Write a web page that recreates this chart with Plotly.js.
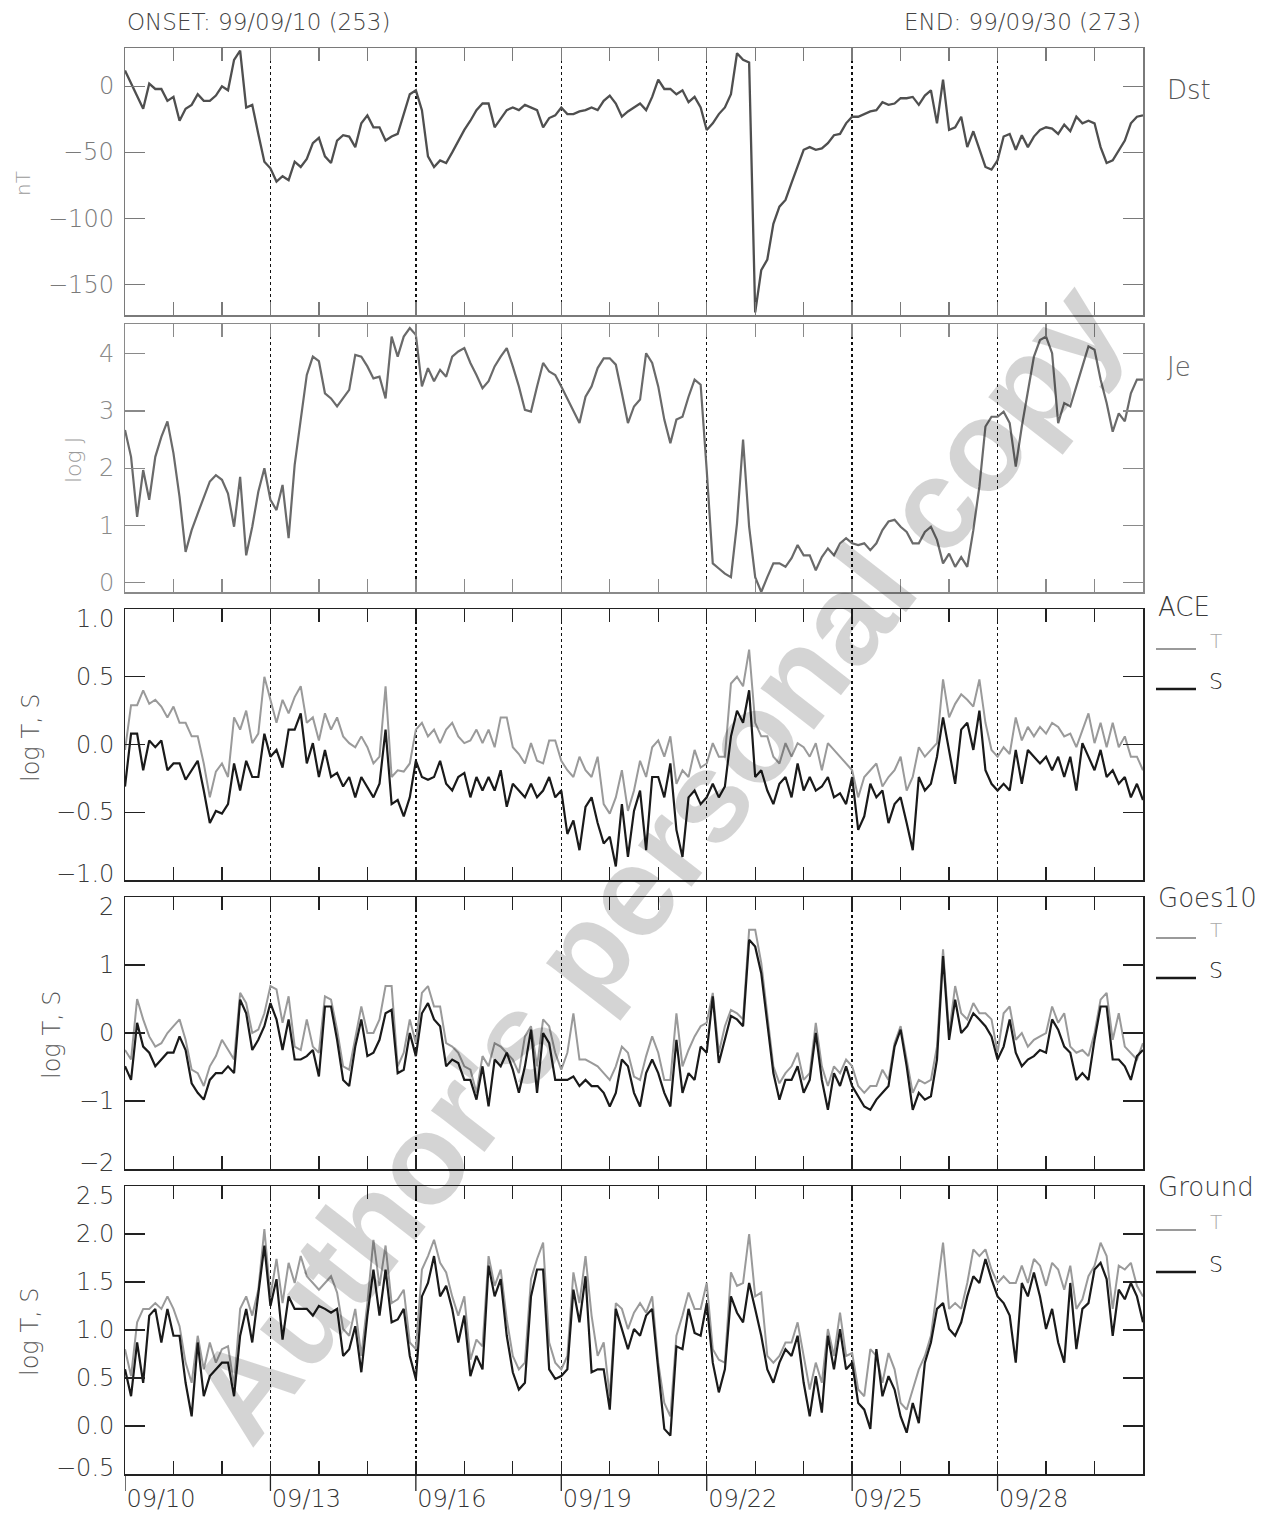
<!DOCTYPE html>
<html>
<head>
<meta charset="utf-8">
<script src="https://cdn.plot.ly/plotly-3.0.1.min.js"></script>
<style>
html,body{margin:0;padding:0;background:#fff;}
#chart{width:1271px;height:1515px;}
</style>
</head>
<body>
<div id="chart"></div>
<script>
// ---------------- DATA (3-hourly samples, days since 1999-09-10 00:00 UT) ----------------
const STEP_DAYS = 0.125;
const dayTickVals = [0, 3, 6, 9, 12, 15, 18];
const dayTickLabels = ["09/10", "09/13", "09/16", "09/19", "09/22", "09/25", "09/28"];

const dstTickVals = [0, -50, -100, -150];
const dstTickText = ["0", "\u221250", "\u2212100", "\u2212150"];
const jeTickVals = [0, 1, 2, 3, 4];
const jeTickText = ["0", "1", "2", "3", "4"];
const aceTickVals = [1, 0.5, 0, -0.5, -1];
const aceTickText = ["1.0", "0.5", "0.0", "\u22120.5", "\u22121.0"];
const goesTickVals = [2, 1, 0, -1, -2];
const goesTickText = ["2", "1", "0", "\u22121", "\u22122"];
const groundTickVals = [2.5, 2, 1.5, 1, 0.5, 0, -0.5];
const groundTickText = ["2.5", "2.0", "1.5", "1.0", "0.5", "0.0", "\u22120.5"];

const dst = [
 12, 2, -8, -17, 2, -2, -2, -11,
 -8, -26, -17, -14, -6, -11, -11, -7,
 0, -3, 20, 27, -16, -14, -36, -57,
 -62, -72, -68, -71, -57, -61, -55, -43,
 -39, -53, -58, -41, -37, -38, -46, -28,
 -22, -31, -31, -41, -38, -36, -21, -6,
 -3, -18, -53, -61, -56, -58, -50, -41,
 -33, -26, -18, -13, -13, -31, -24, -18,
 -16, -18, -14, -16, -18, -31, -24, -22,
 -16, -21, -21, -19, -18, -16, -18, -11,
 -7, -13, -23, -19, -16, -13, -18, -8,
 5, -2, -2, -6, -3, -12, -8, -16,
 -33, -28, -21, -16, -6, 25, 20, 18,
 -171, -139, -131, -104, -91, -86, -73, -61,
 -48, -46, -48, -47, -43, -37, -36, -28,
 -23, -23, -21, -19, -18, -12, -14, -13,
 -9, -9, -8, -14, -7, -3, -28, 5,
 -33, -31, -23, -46, -34, -47, -61, -63,
 -56, -38, -36, -48, -37, -46, -38, -33,
 -31, -32, -36, -29, -34, -23, -28, -26,
 -28, -46, -58, -56, -48, -41, -28, -23,
 -22
];

const je = [
 2.67, 2.20, 1.15, 1.97, 1.45, 2.20, 2.55, 2.82,
 2.26, 1.50, 0.54, 0.92, 1.21, 1.50, 1.77, 1.88,
 1.80, 1.56, 0.98, 1.85, 0.48, 0.98, 1.59, 2.00,
 1.45, 1.27, 1.71, 0.78, 2.06, 2.85, 3.63, 3.95,
 3.87, 3.31, 3.22, 3.08, 3.22, 3.37, 3.98, 3.95,
 3.78, 3.57, 3.60, 3.22, 4.30, 3.95, 4.30, 4.45,
 4.33, 3.43, 3.75, 3.52, 3.72, 3.60, 3.95, 4.04,
 4.10, 3.84, 3.63, 3.40, 3.52, 3.78, 3.95, 4.10,
 3.78, 3.43, 3.02, 2.99, 3.43, 3.84, 3.69, 3.63,
 3.43, 3.22, 3.02, 2.79, 3.25, 3.43, 3.75, 3.92,
 3.92, 3.81, 3.31, 2.79, 3.08, 3.20, 4.01, 3.84,
 3.43, 2.85, 2.44, 2.85, 2.90, 3.25, 3.55, 3.46,
 1.97, 0.34, 0.25, 0.16, 0.10, 1.04, 2.50, 0.98,
 0.10, -0.16, 0.10, 0.34, 0.34, 0.28, 0.43, 0.66,
 0.48, 0.48, 0.22, 0.45, 0.60, 0.48, 0.69, 0.78,
 0.69, 0.66, 0.69, 0.57, 0.69, 0.92, 1.07, 1.10,
 0.98, 0.89, 0.69, 0.69, 0.89, 0.98, 0.75, 0.34,
 0.51, 0.28, 0.45, 0.28, 0.92, 1.68, 2.73, 2.90,
 2.90, 2.99, 2.79, 2.03, 2.73, 3.31, 3.95, 4.24,
 4.30, 4.01, 2.79, 3.14, 3.08, 3.43, 3.78, 4.13,
 4.07, 3.55, 3.14, 2.64, 2.96, 2.82, 3.31, 3.55,
 3.55
];

const aceT = [
 -0.04, 0.29, 0.29, 0.40, 0.30, 0.33, 0.28, 0.20,
 0.28, 0.16, 0.16, 0.06, 0.06, -0.14, -0.39, -0.20,
 -0.14, -0.24, 0.20, 0.11, 0.25, 0.01, 0.08, 0.50,
 0.33, 0.16, 0.33, 0.23, 0.35, 0.43, 0.16, 0.20,
 0.03, 0.23, 0.11, 0.20, 0.06, 0.01, -0.02, 0.06,
 -0.02, -0.14, -0.09, 0.43, -0.24, -0.19, -0.20, -0.14,
 0.11, 0.16, 0.06, 0.11, 0.01, 0.11, 0.16, 0.06,
 0.01, 0.03, 0.11, 0.01, 0.11, -0.02, 0.20, 0.20,
 -0.02, -0.07, -0.14, 0.01, -0.12, -0.14, 0.03, 0.03,
 -0.12, -0.19, -0.24, -0.09, -0.19, -0.24, -0.09, -0.44,
 -0.51, -0.39, -0.19, -0.49, -0.34, -0.12, -0.24, -0.02,
 0.03, -0.09, 0.06, -0.29, -0.19, -0.24, -0.04, -0.17,
 -0.14, 0.01, -0.09, -0.09, 0.45, 0.50, 0.43, 0.70,
 0.16, 0.06, 0.06, -0.09, -0.14, 0.01, -0.09, 0.01,
 -0.02, -0.09, 0.01, -0.19, 0.01, -0.04, -0.09, -0.14,
 -0.19, -0.39, -0.24, -0.19, -0.14, -0.31, -0.24, -0.19,
 -0.09, -0.34, -0.24, -0.02, -0.09, -0.04, 0.01, 0.48,
 0.20, 0.30, 0.37, 0.33, 0.28, 0.48, 0.16, -0.04,
 -0.09, -0.02, -0.07, 0.20, 0.03, 0.13, 0.06, 0.13,
 0.08, 0.16, 0.13, 0.06, 0.08, -0.02, 0.11, 0.23,
 0.01, 0.16, -0.02, 0.16, -0.02, 0.06, -0.09, -0.09,
 -0.19
];

const aceS = [
 -0.31, 0.08, 0.08, -0.19, 0.03, -0.02, 0.03, -0.19,
 -0.14, -0.14, -0.26, -0.19, -0.12, -0.34, -0.58, -0.49,
 -0.51, -0.44, -0.14, -0.34, -0.12, -0.24, -0.24, 0.08,
 -0.09, -0.04, -0.17, 0.11, 0.11, 0.23, -0.14, 0.01,
 -0.24, -0.04, -0.24, -0.21, -0.31, -0.24, -0.39, -0.24,
 -0.31, -0.39, -0.29, 0.11, -0.44, -0.41, -0.53, -0.39,
 -0.12, -0.24, -0.26, -0.24, -0.12, -0.29, -0.34, -0.24,
 -0.21, -0.39, -0.24, -0.34, -0.24, -0.34, -0.19, -0.46,
 -0.29, -0.34, -0.39, -0.29, -0.39, -0.34, -0.24, -0.39,
 -0.34, -0.66, -0.56, -0.78, -0.46, -0.39, -0.58, -0.73,
 -0.68, -0.90, -0.44, -0.83, -0.49, -0.34, -0.78, -0.24,
 -0.24, -0.39, -0.14, -0.63, -0.83, -0.39, -0.34, -0.44,
 -0.39, -0.29, -0.39, -0.31, 0.06, 0.25, 0.16, 0.40,
 -0.24, -0.19, -0.34, -0.44, -0.29, -0.24, -0.39, -0.14,
 -0.34, -0.24, -0.34, -0.31, -0.24, -0.39, -0.36, -0.44,
 -0.24, -0.63, -0.53, -0.29, -0.39, -0.34, -0.58, -0.44,
 -0.39, -0.58, -0.78, -0.24, -0.34, -0.29, -0.09, 0.20,
 -0.04, -0.29, 0.11, 0.16, -0.04, 0.25, -0.19, -0.29,
 -0.34, -0.29, -0.34, -0.04, -0.29, -0.04, -0.09, -0.14,
 -0.09, -0.19, -0.09, -0.24, -0.09, -0.34, 0.01, -0.09,
 -0.19, -0.04, -0.24, -0.19, -0.29, -0.24, -0.39, -0.29,
 -0.41
];

const goesT = [
 -0.25, -0.39, 0.50, 0.20, -0.05, -0.20, -0.15, 0.00,
 0.10, 0.20, -0.10, -0.54, -0.59, -0.78, -0.49, -0.34,
 -0.10, -0.25, -0.39, 0.59, 0.44, 0.00, 0.05, 0.29,
 0.69, 0.64, 0.15, 0.54, -0.20, -0.25, 0.20, -0.20,
 -0.29, 0.54, 0.49, 0.05, -0.49, -0.54, -0.05, 0.39,
 0.00, 0.00, 0.20, 0.69, 0.69, -0.49, -0.29, 0.20,
 -0.15, 0.59, 0.69, 0.39, 0.39, -0.15, -0.20, -0.29,
 -0.49, -0.54, -0.88, -0.34, -0.49, -0.15, -0.20, -0.29,
 -0.39, -0.59, -0.05, 0.10, -0.49, 0.20, 0.10, -0.29,
 -0.54, -0.29, 0.29, -0.39, -0.39, -0.44, -0.49, -0.59,
 -0.69, -0.49, -0.20, -0.29, -0.64, -0.69, -0.34, -0.05,
 -0.29, -0.69, -0.69, 0.29, -0.49, -0.25, -0.05, 0.10,
 0.15, 0.59, -0.29, 0.10, 0.34, 0.29, 0.20, 1.52,
 1.52, 1.03, 0.29, -0.49, -0.74, -0.59, -0.49, -0.29,
 -0.69, -0.59, 0.15, -0.49, -0.78, -0.49, -0.59, -0.39,
 -0.49, -0.78, -0.88, -0.78, -0.78, -0.54, -0.69, -0.15,
 0.10, -0.39, -0.88, -0.69, -0.74, -0.69, -0.20, 1.23,
 0.00, 0.69, 0.29, 0.20, 0.44, 0.29, 0.29, 0.20,
 -0.29, 0.29, 0.39, -0.10, 0.00, -0.20, -0.10, -0.05,
 0.00, 0.39, 0.15, 0.29, -0.20, -0.29, -0.25, -0.34,
 0.00, 0.49, 0.59, -0.10, 0.29, -0.20, -0.29, -0.39,
 -0.15
];

const goesS = [
 -0.49, -0.69, 0.15, -0.20, -0.29, -0.49, -0.39, -0.29,
 -0.29, -0.05, -0.25, -0.74, -0.88, -0.98, -0.69, -0.59,
 -0.59, -0.49, -0.59, 0.49, 0.29, -0.25, -0.10, 0.10,
 0.44, 0.20, -0.25, 0.20, -0.39, -0.39, -0.34, -0.25,
 -0.64, 0.39, 0.39, -0.10, -0.69, -0.78, -0.20, 0.20,
 -0.34, -0.29, -0.10, 0.29, 0.34, -0.59, -0.54, 0.00,
 -0.34, 0.29, 0.44, 0.20, 0.10, -0.49, -0.39, -0.44,
 -0.69, -0.69, -0.98, -0.49, -1.08, -0.39, -0.49, -0.29,
 -0.54, -0.88, -0.49, 0.05, -0.88, 0.00, -0.15, -0.69,
 -0.69, -0.69, -0.64, -0.78, -0.69, -0.78, -0.78, -0.88,
 -1.08, -0.88, -0.39, -0.49, -0.88, -1.08, -0.59, -0.39,
 -0.59, -0.88, -1.08, -0.10, -0.88, -0.59, -0.69, -0.20,
 -0.29, 0.54, -0.44, -0.10, 0.25, 0.20, 0.10, 1.37,
 1.27, 0.88, 0.10, -0.59, -0.98, -0.69, -0.69, -0.49,
 -0.88, -0.69, 0.00, -0.69, -1.13, -0.59, -0.78, -0.49,
 -0.78, -0.93, -1.08, -1.13, -0.98, -0.88, -0.78, -0.20,
 0.05, -0.49, -1.13, -0.88, -0.98, -0.93, -0.39, 1.13,
 -0.10, 0.49, 0.00, 0.10, 0.29, 0.20, 0.10, -0.05,
 -0.39, -0.20, 0.20, -0.29, -0.49, -0.39, -0.34, -0.25,
 -0.29, 0.20, 0.05, -0.20, -0.29, -0.69, -0.59, -0.69,
 -0.10, 0.39, 0.39, -0.39, -0.39, -0.49, -0.69, -0.34,
 -0.25
];

const groundT = [
 0.80, 0.52, 1.08, 1.22, 1.22, 1.28, 1.22, 1.35,
 1.22, 1.04, 0.66, 0.45, 0.94, 0.59, 0.87, 0.66,
 0.80, 0.83, 0.42, 1.22, 1.35, 1.15, 1.42, 2.05,
 1.35, 1.74, 1.28, 1.70, 1.49, 1.77, 1.56, 1.49,
 1.42, 1.49, 1.56, 1.39, 1.01, 0.94, 1.22, 0.73,
 1.28, 1.94, 1.46, 1.88, 1.28, 1.32, 1.42, 0.87,
 0.80, 1.63, 1.77, 1.94, 1.70, 1.60, 1.35, 1.15,
 1.35, 0.69, 0.90, 0.83, 1.77, 1.46, 1.63, 1.11,
 0.73, 0.59, 0.66, 1.53, 1.74, 1.91, 0.87, 0.66,
 0.59, 0.73, 1.60, 1.28, 1.77, 1.15, 0.73, 0.87,
 0.31, 1.28, 1.22, 1.01, 1.18, 1.28, 1.18, 1.35,
 0.66, 0.24, 0.10, 0.94, 1.15, 1.39, 1.22, 1.22,
 1.49, 0.80, 0.69, 0.66, 1.60, 1.46, 1.49, 2.00,
 1.35, 1.39, 0.73, 0.66, 0.73, 0.87, 0.87, 1.08,
 0.73, 0.38, 0.66, 0.45, 1.01, 0.73, 1.18, 0.73,
 0.76, 0.38, 0.31, 0.80, 0.73, 0.45, 0.76, 0.59,
 0.24, 0.17, 0.38, 0.59, 0.73, 0.94, 1.42, 1.91,
 1.22, 1.28, 1.22, 1.49, 1.84, 1.77, 1.84, 1.63,
 1.49, 1.56, 1.49, 1.49, 1.67, 1.49, 1.74, 1.67,
 1.46, 1.70, 1.63, 1.42, 1.67, 1.22, 1.32, 1.56,
 1.67, 1.91, 1.77, 1.22, 1.67, 1.63, 1.70, 1.46,
 1.35
];

const groundS = [
 0.59, 0.31, 0.87, 0.45, 1.15, 1.22, 0.87, 1.22,
 0.94, 0.94, 0.45, 0.10, 0.87, 0.31, 0.52, 0.59,
 0.66, 0.66, 0.31, 0.94, 1.22, 0.87, 1.35, 1.88,
 1.25, 1.53, 0.90, 1.35, 1.22, 1.22, 1.22, 1.15,
 1.25, 1.22, 1.18, 1.22, 0.73, 0.80, 1.04, 0.56,
 1.15, 1.63, 1.15, 1.63, 1.08, 1.11, 1.22, 0.73,
 0.49, 1.35, 1.49, 1.77, 1.35, 1.46, 1.22, 0.87,
 1.15, 0.52, 0.73, 0.59, 1.67, 1.35, 1.53, 0.94,
 0.56, 0.38, 0.45, 1.35, 1.63, 1.63, 0.59, 0.49,
 0.52, 0.59, 1.42, 1.08, 1.56, 0.56, 0.59, 0.59,
 0.17, 1.22, 1.01, 0.80, 1.01, 0.94, 1.15, 1.22,
 0.59, -0.03, -0.10, 0.83, 0.80, 1.22, 0.97, 0.94,
 1.28, 0.66, 0.35, 0.59, 1.35, 1.18, 1.08, 1.49,
 1.22, 0.94, 0.59, 0.45, 0.66, 0.80, 0.73, 0.94,
 0.45, 0.10, 0.52, 0.14, 0.94, 0.59, 1.01, 0.59,
 0.66, 0.24, 0.17, -0.03, 0.80, 0.31, 0.52, 0.38,
 0.10, -0.07, 0.24, 0.03, 0.66, 0.87, 1.22, 1.28,
 1.01, 0.94, 1.08, 1.35, 1.56, 1.49, 1.74, 1.53,
 1.35, 1.28, 1.15, 0.66, 1.49, 1.35, 1.60, 1.35,
 1.01, 1.22, 0.87, 0.66, 1.49, 0.80, 1.22, 1.28,
 1.63, 1.70, 1.53, 0.94, 1.42, 1.32, 1.49, 1.35,
 1.08
];

// ---------------- LAYOUT GEOMETRY ----------------
const W = 1271, H = 1515;
const PL = 125, PR = 1143, PT = 48, PB = 1474;
const panelPx = [[48, 315], [324, 592], [609, 880], [897, 1169], [1186, 1474]];
const px2x = px => (px - PL) / (PR - PL);
const px2y = py => (PB - py) / (PB - PT);
const dom = p => [px2y(p[1]), px2y(p[0])];

const FONT = "DejaVu Sans";
const FW = 200;
const GRAY_T = "#9a9a9a", BLACK_S = "#1a1a1a";
const xs = arr => arr.map((_, i) => i * STEP_DAYS);

function line(y, color, w, ax) {
  const sx = ax === 1 ? "" : String(ax);
  return {x: xs(y), y: y, type: "scatter", mode: "lines",
          line: {color: color, width: w}, xaxis: "x" + sx, yaxis: "y" + sx,
          hoverinfo: "skip", showlegend: false};
}

const traces = [
  line(dst, "#4f4f4f", 2.3, 1),
  line(je, "#6a6a6a", 2.2, 2),
  line(aceT, GRAY_T, 2, 3),
  line(aceS, BLACK_S, 2.2, 3),
  line(goesT, GRAY_T, 2, 4),
  line(goesS, BLACK_S, 2.2, 4),
  line(groundT, GRAY_T, 2, 5),
  line(groundS, BLACK_S, 2.2, 5)
];

const axColors = ["#7a7a7a", "#8a8a8a", "#222", "#222", "#222"];
const labColors = ["#7a7a7a", "#8a8a8a", "#3a3a3a", "#3a3a3a", "#3a3a3a"];
const yRanges = [[-173, 29], [-0.16, 4.52], [-1, 1], [-2, 2], [-0.5, 2.5]];
const yTicks = [
  {vals: dstTickVals, text: dstTickText},
  {vals: jeTickVals, text: jeTickText},
  {vals: aceTickVals, text: aceTickText},
  {vals: goesTickVals, text: goesTickText},
  {vals: groundTickVals, text: groundTickText}
];

const layout = {
  width: W, height: H,
  margin: {l: PL, r: W - PR, t: PT, b: H - PB},
  paper_bgcolor: "#fff", plot_bgcolor: "rgba(0,0,0,0)",
  font: {family: FONT, color: "#444", weight: FW},
  showlegend: false,
  shapes: [], annotations: []
};

for (let k = 0; k < 5; k++) {
  const n = k + 1;
  const sx = n === 1 ? "" : String(n);
  const bottom = (k === 4);
  layout["xaxis" + sx] = {
    domain: [0, 1], anchor: "y" + sx,
    range: [0, 21], tickvals: dayTickVals, ticktext: dayTickLabels,
    ticks: "inside", ticklen: 13, tickwidth: 1.3, tickcolor: axColors[k],
    minor: {tick0: 0, dtick: 1, ticks: "inside", ticklen: 13, tickwidth: 1.3, tickcolor: axColors[k], showgrid: false},
    showgrid: true, griddash: "dot", gridcolor: "#111", gridwidth: 1.4,
    showline: true, linecolor: axColors[k], linewidth: 1.5, mirror: "ticks",
    zeroline: false, fixedrange: true,
    showticklabels: bottom,
    tickfont: {family: FONT, size: 24, color: "#333", weight: FW},
    ticklabelshift: 36, ticklabelstandoff: 3
  };
  layout["yaxis" + sx] = {
    domain: dom(panelPx[k]), anchor: "x" + sx,
    range: yRanges[k], tickvals: yTicks[k].vals,
    ticks: "inside", ticklen: 20, tickwidth: 1.3, tickcolor: axColors[k],
    showline: true, linecolor: axColors[k], linewidth: 1.5, mirror: "ticks",
    showgrid: false, zeroline: false, fixedrange: true,
    showticklabels: false
  };
  // y tick labels, kept inside the panel box at the top and bottom edges (as in the original)
  yTicks[k].vals.forEach((v, i) => {
    let shift = 0;
    if (v === yRanges[k][1]) shift = -10;
    if (v === yRanges[k][0]) shift = 6;
    layout.annotations.push({
      text: yTicks[k].text[i], xref: "paper", yref: "y" + sx, x: px2x(116), y: v,
      xanchor: "right", yanchor: "middle", yshift: shift, showarrow: false,
      font: {family: FONT, size: 24, color: labColors[k], weight: FW}
    });
  });
}

// bottom outside major ticks under the lowest panel
dayTickVals.forEach(v => layout.shapes.push({
  type: "line", xref: "x5", yref: "paper", x0: v, x1: v, y0: 0, y1: -17 / (PB - PT),
  line: {color: "#222", width: 1.3}
}));

// header texts
layout.annotations.push(
  {text: "ONSET: 99/09/10 (253)", xref: "paper", yref: "paper", x: 0, y: px2y(22),
   xanchor: "left", yanchor: "middle", showarrow: false, font: {family: FONT, size: 23, color: "#444", weight: FW}},
  {text: "END: 99/09/30 (273)", xref: "paper", yref: "paper", x: 1, y: px2y(22),
   xanchor: "right", yanchor: "middle", showarrow: false, font: {family: FONT, size: 23, color: "#444", weight: FW}}
);

// panel names (right)
const panelNames = [
  {t: "Dst", x: 1165, y: 90, c: "#555"},
  {t: "Je", x: 1165, y: 367, c: "#666"},
  {t: "ACE", x: 1156, y: 607, c: "#3a3a3a"},
  {t: "Goes10", x: 1156, y: 898, c: "#3a3a3a"},
  {t: "Ground", x: 1156, y: 1187, c: "#3a3a3a"}
];
panelNames.forEach(p => layout.annotations.push({
  text: p.t, xref: "paper", yref: "paper", x: px2x(p.x), y: px2y(p.y),
  xanchor: "left", yanchor: "middle", showarrow: false,
  font: {family: FONT, size: 26, color: p.c, weight: FW}
}));

// legend keys T / S for the three lower panels
const legendY = [[649, 689], [938, 978], [1230, 1272]];
legendY.forEach(ly => {
  layout.shapes.push(
    {type: "line", xref: "paper", yref: "paper", x0: px2x(1156), x1: px2x(1196), y0: px2y(ly[0]), y1: px2y(ly[0]),
     line: {color: GRAY_T, width: 2}},
    {type: "line", xref: "paper", yref: "paper", x0: px2x(1156), x1: px2x(1196), y0: px2y(ly[1]), y1: px2y(ly[1]),
     line: {color: BLACK_S, width: 2.4}}
  );
  layout.annotations.push(
    {text: "T", xref: "paper", yref: "paper", x: px2x(1208), y: px2y(ly[0] - 8), xanchor: "left", yanchor: "middle",
     showarrow: false, font: {family: FONT, size: 20, color: "#aaa", weight: FW}},
    {text: "S", xref: "paper", yref: "paper", x: px2x(1207), y: px2y(ly[1] - 8), xanchor: "left", yanchor: "middle",
     showarrow: false, font: {family: FONT, size: 22, color: "#222", weight: FW}}
  );
});

// y-axis titles
const yTitles = [
  {t: "nT", x: 23, y: 184, c: "#9a9a9a", s: 20},
  {t: "log J", x: 73, y: 460, c: "#9a9a9a", s: 22},
  {t: "log T, S", x: 31, y: 738, c: "#555", s: 24},
  {t: "log T, S", x: 52, y: 1035, c: "#555", s: 24},
  {t: "log T, S", x: 30, y: 1332, c: "#555", s: 24}
];
yTitles.forEach(a => layout.annotations.push({
  text: a.t, xref: "paper", yref: "paper", x: px2x(a.x), y: px2y(a.y),
  xanchor: "center", yanchor: "middle", textangle: -90, showarrow: false,
  font: {family: FONT, size: a.s, color: a.c, weight: FW}
}));

// watermark
layout.annotations.push({
  text: "Author's personal copy", xref: "paper", yref: "paper",
  x: px2x(655), y: px2y(862), xanchor: "center", yanchor: "middle",
  textangle: -52, showarrow: false,
  font: {family: "Liberation Sans", size: 128, color: "rgba(0,0,0,0.17)", weight: 700}
});

Plotly.newPlot("chart", traces, layout, {staticPlot: true, displayModeBar: false});
</script>
</body>
</html>
